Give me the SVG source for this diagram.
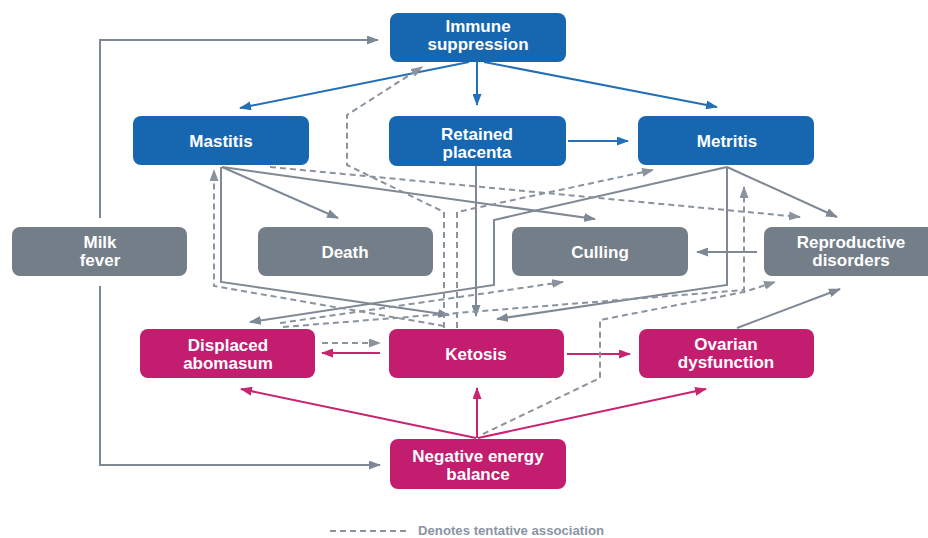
<svg xmlns="http://www.w3.org/2000/svg" width="928" height="538" viewBox="0 0 928 538">
<style>
.nb{fill:#1767b0}
.ng{fill:#737e89}
.nm{fill:#c31d6f}
.t{font-family:"Liberation Sans",Arial,sans-serif;font-weight:bold;font-size:17px;fill:#ffffff;text-anchor:middle}
.lb{fill:none;stroke:#2470b6;stroke-width:2}
.lg{fill:none;stroke:#7e8995;stroke-width:2}
.lm{fill:none;stroke:#c8246f;stroke-width:2}
.ld{fill:none;stroke:#8a939e;stroke-width:2;stroke-dasharray:6 4}
.legend{font-family:"Liberation Sans",Arial,sans-serif;font-weight:bold;font-size:13px;fill:#8a94a3}
</style>
<defs>
<marker id="ab" viewBox="0 0 12 9" refX="11" refY="4.5" markerWidth="12" markerHeight="9" markerUnits="userSpaceOnUse" orient="auto"><path d="M0,0 L12,4.5 L0,9 z" fill="#2470b6"/></marker>
<marker id="ag" viewBox="0 0 12 9" refX="11" refY="4.5" markerWidth="12" markerHeight="9" markerUnits="userSpaceOnUse" orient="auto"><path d="M0,0 L12,4.5 L0,9 z" fill="#7e8995"/></marker>
<marker id="am" viewBox="0 0 12 9" refX="11" refY="4.5" markerWidth="12" markerHeight="9" markerUnits="userSpaceOnUse" orient="auto"><path d="M0,0 L12,4.5 L0,9 z" fill="#c8246f"/></marker>
<marker id="ad" viewBox="0 0 12 9" refX="11" refY="4.5" markerWidth="12" markerHeight="9" markerUnits="userSpaceOnUse" orient="auto"><path d="M0,0 L12,4.5 L0,9 z" fill="#8a939e"/></marker>
</defs>
<rect width="928" height="538" fill="#ffffff"/>

<g id="connectors">
  <path class="lb" marker-end="url(#ab)" d="M469,62 L240,108"/>
  <path class="lb" marker-end="url(#ab)" d="M477,62 L477,105"/>
  <path class="lb" marker-end="url(#ab)" d="M484,62 L717,107"/>
  <path class="lb" marker-end="url(#ab)" d="M568,141 L628,141"/>
  <path class="lg" marker-end="url(#ag)" d="M100,218 L100,40 L378,40"/>
  <path class="lg" marker-end="url(#ag)" d="M100,286 L100,465 L380,465"/>
  <path class="lg" marker-end="url(#ag)" d="M222,167 L338,218"/>
  <path class="lg" marker-end="url(#ag)" d="M222,167 L595,219"/>
  <path class="lg" marker-end="url(#ag)" d="M221,167 L221,282 L449,315"/>
  <path class="lg" marker-end="url(#ag)" d="M727,167 L494,220 L494,285 L250,322"/>
  <path class="lg" marker-end="url(#ag)" d="M727,167 L727,285 L497,319"/>
  <path class="lg" marker-end="url(#ag)" d="M727,167 L837,217"/>
  <path class="lg" marker-end="url(#ag)" d="M757,252 L697,252"/>
  <path class="lg" marker-end="url(#ag)" d="M476,166 L476,316"/>
  <path class="lg" marker-end="url(#ag)" d="M737,328 L840,289"/>
  <path class="lm" marker-end="url(#am)" d="M380,353 L322,353"/>
  <path class="lm" marker-end="url(#am)" d="M567,354 L630,354"/>
  <path class="lm" marker-end="url(#am)" d="M476,438 L241,389"/>
  <path class="lm" marker-end="url(#am)" d="M477,438 L477,388"/>
  <path class="lm" marker-end="url(#am)" d="M478,438 L706,389"/>
  <path class="ld" marker-end="url(#ad)" d="M444,328 L444,212 L347,165 L347,115 L422,67"/>
  <path class="ld" marker-end="url(#ad)" d="M457,328 L457,212 L653,170"/>
  <path class="ld" marker-end="url(#ad)" d="M444,326 L214,286 L214,170"/>
  <path class="ld" marker-end="url(#ad)" d="M280,323 L563,282"/>
  <path class="ld" marker-end="url(#ad)" d="M283,327 L744,290 L744,187"/>
  <path class="ld" marker-end="url(#ad)" d="M483,434 L600,378 L600,320 L744,292 L775,282"/>
  <path class="ld" marker-end="url(#ad)" d="M270,167 L800,217"/>
  <path class="ld" marker-end="url(#ad)" d="M322,343 L380,343"/>
</g>

<g id="immune-suppression"><rect class="nb" x="390" y="13" width="176" height="49" rx="8"/><text class="t" x="478" y="32">Immune</text><text class="t" x="478" y="50">suppression</text></g>
<g id="mastitis"><rect class="nb" x="133" y="116" width="176" height="49" rx="8"/><text class="t" x="221" y="147">Mastitis</text></g>
<g id="retained-placenta"><rect class="nb" x="389" y="116" width="177" height="50" rx="8"/><text class="t" x="477" y="140">Retained</text><text class="t" x="477" y="158">placenta</text></g>
<g id="metritis"><rect class="nb" x="638" y="116" width="176" height="49" rx="8"/><text class="t" x="727" y="147">Metritis</text></g>

<g id="milk-fever"><rect class="ng" x="12" y="227" width="175" height="49" rx="8"/><text class="t" x="100" y="248">Milk</text><text class="t" x="100" y="266">fever</text></g>
<g id="death"><rect class="ng" x="258" y="227" width="175" height="49" rx="8"/><text class="t" x="345" y="258">Death</text></g>
<g id="culling"><rect class="ng" x="512" y="227" width="176" height="49" rx="8"/><text class="t" x="600" y="258">Culling</text></g>
<g id="reproductive-disorders"><rect class="ng" x="764" y="227" width="176" height="49" rx="8"/><text class="t" x="851" y="248">Reproductive</text><text class="t" x="851" y="266">disorders</text></g>

<g id="displaced-abomasum"><rect class="nm" x="140" y="329" width="175" height="49" rx="8"/><text class="t" x="228" y="351">Displaced</text><text class="t" x="228" y="369">abomasum</text></g>
<g id="ketosis"><rect class="nm" x="389" y="329" width="175" height="49" rx="8"/><text class="t" x="476" y="360">Ketosis</text></g>
<g id="ovarian-dysfunction"><rect class="nm" x="639" y="329" width="175" height="49" rx="8"/><text class="t" x="726" y="350">Ovarian</text><text class="t" x="726" y="368">dysfunction</text></g>
<g id="negative-energy-balance"><rect class="nm" x="390" y="439" width="176" height="50" rx="8"/><text class="t" x="478" y="462">Negative energy</text><text class="t" x="478" y="480">balance</text></g>

<g id="legend">
  <path class="ld" d="M330,531 L408,531"/>
  <text class="legend" x="418" y="535" textLength="186" lengthAdjust="spacingAndGlyphs">Denotes tentative association</text>
</g>
</svg>
